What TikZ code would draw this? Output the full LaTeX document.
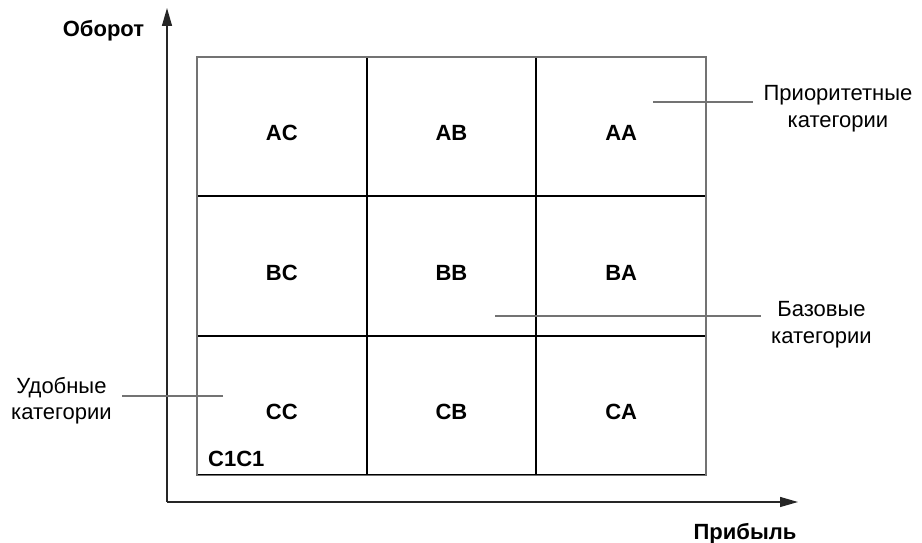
\documentclass[tikz,border=0pt]{standalone}
\usepackage{fontspec}
\setmainfont{Liberation Sans}
\usetikzlibrary{
	arrows.meta,
	positioning,
	calc
}
\newcommand{\lblfont}{\fontsize{22}{26.5}\selectfont}

\begin{document}
\begin{tikzpicture}[
			x=1pt, y=1pt,
			cell/.style={
				rectangle, draw=black, line width=2pt, outer sep=0pt,
				minimum width=169.67pt, minimum height=139.5pt,
				font=\lblfont\bfseries,
				text height=28pt, text depth=0pt % push labels a little below cell centre
			},
			frame/.style={draw=black!55, line width=1.5pt},
			axis/.style={-{Triangle[length=18pt,width=10pt]}, line width=1.3pt, black!85},
			axislbl/.style={font=\lblfont\bfseries, inner sep=0pt},
			note/.style={align=center, font=\lblfont, inner xsep=10pt, inner ysep=0pt},
			leader/.style={draw=black!55, line width=1.3pt}
			]
			\useasboundingbox (0,0) rectangle (922,543);
			
			% ---------------- AXES ----------------
			\coordinate (origin) at (167,41);
			\coordinate (ytop) at (167,535);
			\coordinate (xend) at (798,41);
			\draw[axis] (origin) -- (ytop);
			\draw[axis] (origin) -- (xend);
			
			\node[axislbl, anchor=base] (turnover) at (103.5,506) {Оборот};
			\node[axislbl, anchor=base] (profit) at (745,3) {Прибыль};
			
			% ---------------- row A ----------------
			\node[cell] (ac) at (281.83,416.25) {AC};
			\node[cell, right=0pt of ac] (ab) {AB};
			\node[cell, right=0pt of ab] (aa) {AA};
			
			% ---------------- row B ----------------
			\node[cell, below=0pt of ac] (bc) {BC};
			\node[cell, right=0pt of bc] (bb) {BB};
			\node[cell, right=0pt of bb] (ba) {BA};
			
			% ---------------- row C ----------------
			\node[cell, below=0pt of bc] (cc) {CC};
			\node[cell, right=0pt of cc] (cb) {CB};
			\node[cell, right=0pt of cb] (ca) {CA};
			
			% outer border is lighter than the inner lines
			\draw[frame] (ac.north west) rectangle (ca.south east);
			
			\node[axislbl, anchor=south west] (c1c1) at ($(cc.south west)+(11,8.5)$) {C1C1};
			
			% ---------------- NOTES ----------------
			\node[note] (prio) at (838,434.5) {Приоритетные\\категории};
			\coordinate (prioPt) at (653,441);
			\draw[leader] (prioPt) -- (prioPt -| prio.west);
			
			\node[note] (base) at (821.5,218.2) {Базовые\\категории};
			\coordinate (basePt) at (495,227);
			\draw[leader] (basePt) -- (basePt -| base.west);
			
			\node[note] (conv) at (61.5,142.2) {Удобные\\категории};
			\coordinate (convPt) at (223,147);
			\draw[leader] (convPt) -- (convPt -| conv.east);
		\end{tikzpicture}
\end{document}
